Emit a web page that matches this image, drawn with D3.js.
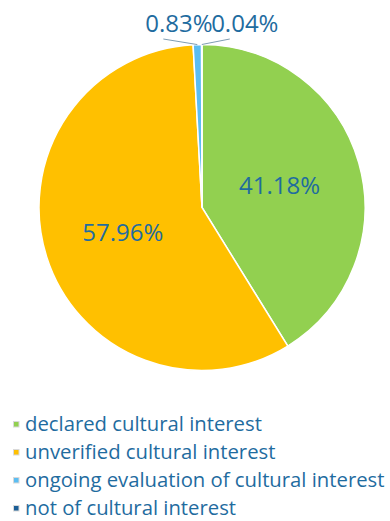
<!DOCTYPE html>
<html>
<head>
<meta charset="utf-8">
<script src="https://cdn.jsdelivr.net/npm/d3@7/dist/d3.min.js"></script>
<style>
  html, body { margin: 0; padding: 0; background: #fff; }
  svg { display: block; }
  text { font-family: "Open Sans", "Noto Sans", sans-serif; }
</style>
</head>
<body>
<svg id="chart" width="390" height="521"></svg>
<script>
// Share of items by cultural-interest status (percent)
const categories = [
  "declared cultural interest",
  "unverified cultural interest",
  "ongoing evaluation of cultural interest",
  "not of cultural interest"
];
const values = [41.18, 57.96, 0.83, 0.04];
const labels = ["41.18%", "57.96%", "0.83%", "0.04%"];
const colors = ["#92D050", "#FFC000", "#5BBDF2", "#1B5E96"];

const cx = 202, cy = 207.5, radius = 163;
const textColor = "#1F6C9F";

const svg = d3.select("#chart");
const g = svg.append("g").attr("transform", `translate(${cx},${cy})`);

const pie = d3.pie().sort(null).value(d => d)
  .startAngle(0).endAngle(2 * Math.PI);
const arcs = pie(values);

const arc = d3.arc().innerRadius(0).outerRadius(radius);
const edgeArc = d3.arc().innerRadius(radius).outerRadius(radius);

// Slices
g.selectAll("path.slice")
  .data(arcs)
  .join("path")
  .attr("class", "slice")
  .attr("d", arc)
  .attr("fill", (d, i) => colors[i])
  .attr("stroke", "#fff")
  .attr("stroke-width", 1.5);

// Inside labels for the two large slices
const innerLabelRadius = [0.495, 0.51];
[0, 1].forEach(i => {
  const a = arcs[i];
  const mid = (a.startAngle + a.endAngle) / 2;
  const r = radius * innerLabelRadius[i];
  g.append("text")
    .attr("x", Math.sin(mid) * r)
    .attr("y", -Math.cos(mid) * r + 8.5)
    .attr("text-anchor", "middle")
    .attr("font-size", 24)
    .attr("fill", textColor)
    .text(labels[i]);
});

// Outside labels for the two thin slices, with leader lines
const outside = [
  { i: 2, dx: -18.5, anchorDx: -34 },
  { i: 3, dx: 43, anchorDx: 28 }
];
const labelBaseline = 32 - cy;
outside.forEach(o => {
  const a = arcs[o.i];
  const mid = (a.startAngle + a.endAngle) / 2;
  const [ex, ey] = edgeArc.centroid({ startAngle: mid, endAngle: mid });
  g.append("line")
    .attr("x1", ex).attr("y1", ey)
    .attr("x2", ex + o.anchorDx).attr("y2", labelBaseline + 7)
    .attr("stroke", "#7F9DB3")
    .attr("stroke-width", 1);
  g.append("text")
    .attr("x", ex + o.dx)
    .attr("y", labelBaseline)
    .attr("text-anchor", "middle")
    .attr("font-size", 24)
    .attr("fill", textColor)
    .text(labels[o.i]);
});

// Legend
const legend = svg.append("g").attr("transform", "translate(13,431)");
const rowStep = 28;
const rows = legend.selectAll("g.row")
  .data(categories)
  .join("g")
  .attr("class", "row")
  .attr("transform", (d, i) => `translate(0,${i * rowStep})`);
rows.append("rect")
  .attr("x", 0.5).attr("y", -9.5)
  .attr("width", 5.5).attr("height", 5.5)
  .attr("fill", (d, i) => colors[i])
  .attr("stroke", "#D9D9D9")
  .attr("stroke-width", 1);
rows.append("text")
  .attr("x", 12)
  .attr("y", 0)
  .attr("font-size", 20.3)
  .attr("fill", textColor)
  .text(d => d);
</script>
</body>
</html>
